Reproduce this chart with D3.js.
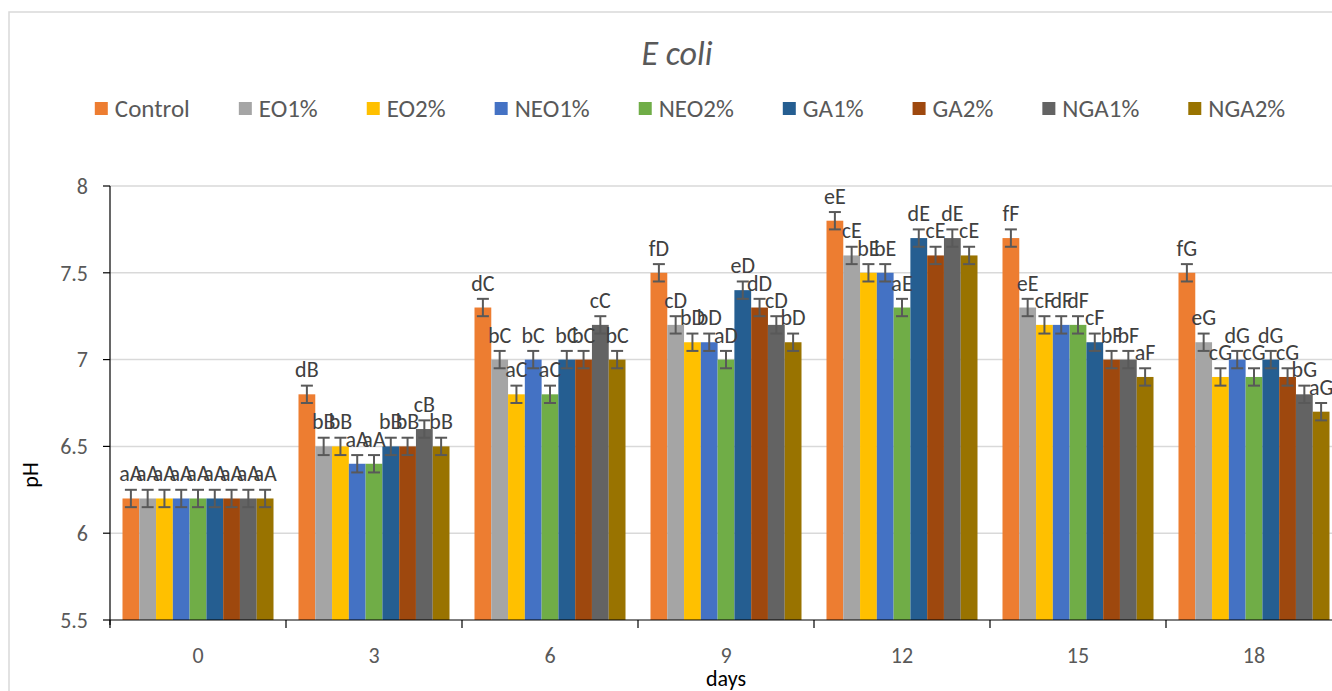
<!DOCTYPE html>
<html>
<head>
<meta charset="utf-8">
<script src="https://cdn.jsdelivr.net/npm/d3@7"></script>
<style>
  body { margin: 0; background: #fff; }
  svg { display: block; font-family: Carlito, Calibri, Lato, sans-serif; }
</style>
</head>
<body>
<svg id="chart" width="1332" height="691"></svg>
<script>
const days = ['0', '3', '6', '9', '12', '15', '18'];
const seriesNames = ['Control', 'EO1%', 'EO2%', 'NEO1%', 'NEO2%', 'GA1%', 'GA2%', 'NGA1%', 'NGA2%'];
const colors = ['#ED7D31', '#A5A5A5', '#FFC000', '#4472C4', '#70AD47', '#255E91', '#9E480E', '#636363', '#997300'];

// pH per series, one value per day
const control = [6.2, 6.8, 7.3, 7.5, 7.8, 7.7, 7.5];
const eo1 = [6.2, 6.5, 7.0, 7.2, 7.6, 7.3, 7.1];
const eo2 = [6.2, 6.5, 6.8, 7.1, 7.5, 7.2, 6.9];
const neo1 = [6.2, 6.4, 7.0, 7.1, 7.5, 7.2, 7.0];
const neo2 = [6.2, 6.4, 6.8, 7.0, 7.3, 7.2, 6.9];
const ga1 = [6.2, 6.5, 7.0, 7.4, 7.7, 7.1, 7.0];
const ga2 = [6.2, 6.5, 7.0, 7.3, 7.6, 7.0, 6.9];
const nga1 = [6.2, 6.6, 7.2, 7.2, 7.7, 7.0, 6.8];
const nga2 = [6.2, 6.5, 7.0, 7.1, 7.6, 6.9, 6.7];
const values = [control, eo1, eo2, neo1, neo2, ga1, ga2, nga1, nga2];

// significance letters shown above the bars
const lblControl = ['aA', 'dB', 'dC', 'fD', 'eE', 'fF', 'fG'];
const lblEo1 = ['aA', 'bB', 'bC', 'cD', 'cE', 'eE', 'eG'];
const lblEo2 = ['aA', 'bB', 'aC', 'bD', 'bE', 'cF', 'cG'];
const lblNeo1 = ['aA', 'aA', 'bC', 'bD', 'bE', 'dF', 'dG'];
const lblNeo2 = ['aA', 'aA', 'aC', 'aD', 'aE', 'dF', 'cG'];
const lblGa1 = ['aA', 'bB', 'bC', 'eD', 'dE', 'cF', 'dG'];
const lblGa2 = ['aA', 'bB', 'bC', 'dD', 'cE', 'bF', 'cG'];
const lblNga1 = ['aA', 'cB', 'cC', 'cD', 'dE', 'bF', 'bG'];
const lblNga2 = ['aA', 'bB', 'bC', 'bD', 'cE', 'aF', 'aG'];
const labels = [lblControl, lblEo1, lblEo2, lblNeo1, lblNeo2, lblGa1, lblGa2, lblNga1, lblNga2];

const errorBar = 0.05;
const yTicks = [5.5, 6, 6.5, 7, 7.5, 8];

const svg = d3.select('#chart');
const plotLeft = 110, plotRight = 1342, plotTop = 186, plotBottom = 620;

// chart frame
svg.append('rect')
  .attr('x', 9).attr('y', 12)
  .attr('width', 1400).attr('height', 800)
  .attr('fill', 'none')
  .attr('stroke', '#D9D9D9')
  .attr('stroke-width', 1.5);

const x0 = d3.scaleBand().domain(days).range([plotLeft, plotRight])
  .paddingInner(0.142).paddingOuter(0.071);
const x1 = d3.scaleBand().domain(seriesNames).range([0, x0.bandwidth()]);
const y = d3.scaleLinear().domain([5.5, 8]).range([plotBottom, plotTop]);

// gridlines
svg.append('g')
  .selectAll('line')
  .data(yTicks.slice(1))
  .enter()
  .append('line')
  .attr('x1', plotLeft).attr('x2', plotRight)
  .attr('y1', d => y(d)).attr('y2', d => y(d))
  .attr('stroke', '#D9D9D9')
  .attr('stroke-width', 1.5);

// flatten into one record per bar
const bars = [];
seriesNames.forEach((s, si) => {
  days.forEach((d, di) => {
    bars.push({ series: s, si: si, day: d, value: values[si][di], label: labels[si][di] });
  });
});

svg.append('g')
  .selectAll('rect')
  .data(bars)
  .enter()
  .append('rect')
  .attr('x', d => x0(d.day) + x1(d.series))
  .attr('width', x1.bandwidth())
  .attr('y', d => y(d.value))
  .attr('height', d => y(5.5) - y(d.value))
  .attr('fill', d => colors[d.si]);

// error bars
const err = svg.append('g')
  .attr('stroke', '#595959')
  .attr('stroke-width', 2);
const cx = d => x0(d.day) + x1(d.series) + x1.bandwidth() / 2;
err.selectAll('.stem')
  .data(bars)
  .enter()
  .append('line')
  .attr('x1', cx).attr('x2', cx)
  .attr('y1', d => y(d.value + errorBar))
  .attr('y2', d => y(d.value - errorBar));
[1, -1].forEach(sign => {
  err.selectAll('.cap' + sign)
    .data(bars)
    .enter()
    .append('line')
    .attr('x1', d => cx(d) - 6).attr('x2', d => cx(d) + 6)
    .attr('y1', d => y(d.value + sign * errorBar))
    .attr('y2', d => y(d.value + sign * errorBar));
});

// value letters
svg.append('g')
  .selectAll('text')
  .data(bars)
  .enter()
  .append('text')
  .attr('x', cx)
  .attr('y', d => y(d.value) - 17)
  .attr('text-anchor', 'middle')
  .attr('font-size', 22)
  .attr('fill', '#404040')
  .text(d => d.label);

// axes
const yAxis = svg.append('g');
yAxis.append('line')
  .attr('x1', plotLeft).attr('x2', plotLeft)
  .attr('y1', plotTop).attr('y2', plotBottom + 5)
  .attr('stroke', '#000').attr('stroke-width', 1.2);
yAxis.selectAll('.tick')
  .data(yTicks)
  .enter()
  .append('line')
  .attr('x1', plotLeft - 7).attr('x2', plotLeft)
  .attr('y1', d => y(d)).attr('y2', d => y(d))
  .attr('stroke', '#000').attr('stroke-width', 1.2);
yAxis.selectAll('text')
  .data(yTicks)
  .enter()
  .append('text')
  .attr('x', 88)
  .attr('y', d => y(d))
  .attr('dy', '0.35em')
  .attr('text-anchor', 'end')
  .attr('font-size', 22)
  .attr('fill', '#595959')
  .text(d => d);

const xAxis = svg.append('g');
xAxis.append('line')
  .attr('x1', plotLeft).attr('x2', plotRight)
  .attr('y1', plotBottom).attr('y2', plotBottom)
  .attr('stroke', '#000').attr('stroke-width', 1.2);
const step = x0.step();
xAxis.selectAll('.tick')
  .data(d3.range(days.length + 1))
  .enter()
  .append('line')
  .attr('x1', i => plotLeft + i * step).attr('x2', i => plotLeft + i * step)
  .attr('y1', plotBottom).attr('y2', plotBottom + 8)
  .attr('stroke', '#000').attr('stroke-width', 1.2);
xAxis.selectAll('text')
  .data(days)
  .enter()
  .append('text')
  .attr('x', d => x0(d) + x0.bandwidth() / 2)
  .attr('y', 655)
  .attr('dy', '0.35em')
  .attr('text-anchor', 'middle')
  .attr('font-size', 22)
  .attr('fill', '#595959')
  .text(d => d);

// axis titles
svg.append('text')
  .attr('x', (plotLeft + plotRight) / 2)
  .attr('y', 686)
  .attr('text-anchor', 'middle')
  .attr('font-size', 22)
  .attr('fill', '#000')
  .text('days');
svg.append('text')
  .attr('transform', 'translate(38,475) rotate(-90)')
  .attr('text-anchor', 'middle')
  .attr('font-size', 22)
  .attr('fill', '#000')
  .text('pH');

// title
svg.append('text')
  .attr('x', 677)
  .attr('y', 65)
  .attr('text-anchor', 'middle')
  .attr('font-size', 34)
  .attr('font-style', 'italic')
  .attr('fill', '#595959')
  .text('E coli');

// legend: square, gap, text, gap to next entry
const legend = svg.append('g');
const items = legend.selectAll('g')
  .data(seriesNames)
  .enter()
  .append('g');
items.append('rect')
  .attr('width', 13).attr('height', 13)
  .attr('y', 102)
  .attr('fill', (d, i) => colors[i]);
items.append('text')
  .attr('x', 20)
  .attr('y', 108)
  .attr('dy', '0.36em')
  .attr('font-size', 25)
  .attr('fill', '#595959')
  .text(d => d);
let pos = 0;
const offsets = [];
items.each(function() {
  offsets.push(pos);
  const w = d3.select(this).select('text').node().getComputedTextLength();
  pos += 20 + w + 49;
});
const total = pos - 49;
const start = 690 - total / 2;
items.attr('transform', (d, i) => 'translate(' + (start + offsets[i]) + ',0)');
</script>
</body>
</html>
